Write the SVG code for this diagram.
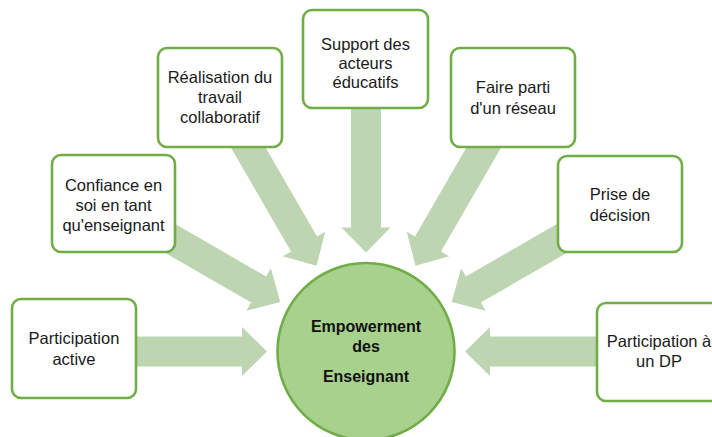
<svg xmlns="http://www.w3.org/2000/svg" width="712" height="437" viewBox="0 0 712 437">
<defs>
<style>
.arrow{fill:#BDD5B1;}
.box{fill:#ffffff;stroke:#70AD47;stroke-width:2.6;}
.t{font-family:"Liberation Sans",Arial,sans-serif;font-size:16.5px;fill:#1a1a1a;text-anchor:middle;}
.c{font-family:"Liberation Sans",Arial,sans-serif;font-size:16px;font-weight:bold;fill:#111;text-anchor:middle;}
</style>
<path id="arr" d="M-250,-15 L-124,-15 L-124,-24.5 L-99,0 L-124,24.5 L-124,15 L-250,15 Z"/>
</defs>
<rect width="712" height="437" fill="#ffffff"/>
<g id="connectors">
<use href="#arr" class="arrow" transform="translate(366,351.5) rotate(0)"/>
<use href="#arr" class="arrow" transform="translate(366,351.5) rotate(30)"/>
<use href="#arr" class="arrow" transform="translate(366,351.5) rotate(60)"/>
<use href="#arr" class="arrow" transform="translate(366,351.5) rotate(90)"/>
<use href="#arr" class="arrow" transform="translate(366,351.5) rotate(120)"/>
<use href="#arr" class="arrow" transform="translate(366,351.5) rotate(150)"/>
<use href="#arr" class="arrow" transform="translate(366,351.5) rotate(180)"/>
</g>
<g id="center">
<circle cx="366" cy="351.5" r="88.5" fill="#A9D18E" stroke="#70AD47" stroke-width="2.6"/>
<text class="c" x="366" y="331.7">Empowerment</text>
<text class="c" x="366" y="352.3">des</text>
<text class="c" x="366" y="381.7">Enseignant</text>
</g>
<g id="participation-active">
<rect class="box" x="12" y="299" width="124" height="99" rx="9"/>
<text class="t" x="74" y="344">Participation</text>
<text class="t" x="74" y="365">active</text>
</g>
<g id="confiance">
<rect class="box" x="52" y="155" width="123" height="97" rx="9"/>
<text class="t" x="113.5" y="190.5">Confiance en</text>
<text class="t" x="113.5" y="210.5">soi en tant</text>
<text class="t" x="113.5" y="230.5">qu'enseignant</text>
</g>
<g id="realisation">
<rect class="box" x="158" y="48" width="124" height="99" rx="9"/>
<text class="t" x="220" y="83">Réalisation du</text>
<text class="t" x="220" y="103">travail</text>
<text class="t" x="220" y="123">collaboratif</text>
</g>
<g id="support">
<rect class="box" x="303" y="10" width="125" height="98" rx="9"/>
<text class="t" x="365.5" y="49.5">Support des</text>
<text class="t" x="365.5" y="69">acteurs</text>
<text class="t" x="365.5" y="88">éducatifs</text>
</g>
<g id="faire-parti">
<rect class="box" x="451" y="48" width="124" height="99" rx="9"/>
<text class="t" x="513" y="93">Faire parti</text>
<text class="t" x="513" y="114">d'un réseau</text>
</g>
<g id="prise-decision">
<rect class="box" x="558" y="156" width="124" height="96" rx="9"/>
<text class="t" x="620" y="200">Prise de</text>
<text class="t" x="620" y="221">décision</text>
</g>
<g id="participation-dp">
<rect class="box" x="597" y="303" width="124" height="98" rx="9"/>
<text class="t" x="659" y="347">Participation à</text>
<text class="t" x="659" y="367">un DP</text>
</g>
</svg>
